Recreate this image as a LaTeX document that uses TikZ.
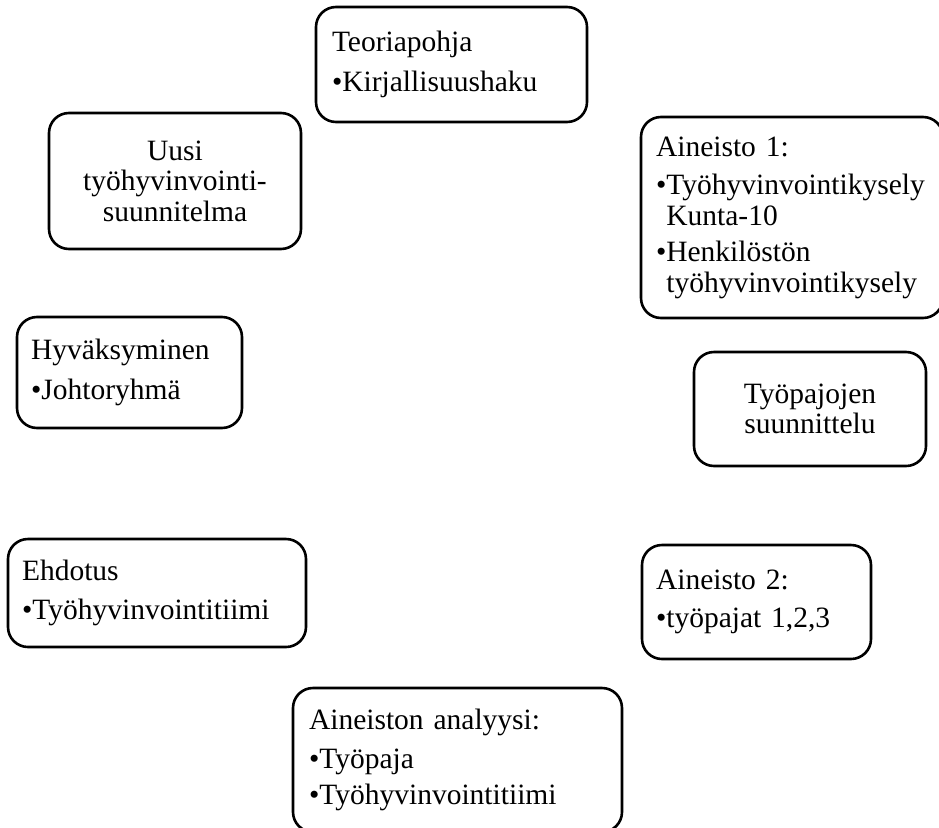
\documentclass[tikz,border=0pt]{standalone}
\usepackage{fontspec}
\setmainfont{Liberation Serif}
\begin{document}
\begin{tikzpicture}[x=1pt,y=-1pt,
  box/.style={draw, line width=2.6pt, rounded corners=20pt,
    font={\fontsize{29.5}{30.5}\selectfont\spaceskip=0.25em\relax\hyphenpenalty=10000\exhyphenpenalty=10000},
    inner ysep=0pt, inner xsep=16pt, align=left},
  cbox/.style={box, align=center}]
\useasboundingbox (0,0) rectangle (939,827);
\begin{scope}
\clip (0,0) rectangle (939,827);
\node[box, minimum width=271pt, minimum height=115pt, text width=239pt] (teo) at (451.5,64.5)
  {Teoriapohja\\[9pt]•Kirjallisuushaku};
\node[cbox, minimum width=252pt, minimum height=136pt, text width=220pt] (uusi) at (175,181)
  {Uusi\\työhyvinvointi-\\suunnitelma};
\node[box, minimum width=302pt, minimum height=201pt, text width=272pt, inner xsep=15pt] (ai1) at (792,217.5)
  {Aineisto 1:\\[8pt]•Työhyvinvointikysely\\\hphantom{•}Kunta-10\\[6pt]•Henkilöstön\\\hphantom{•}työhyvinvointikysely};
\node[box, minimum width=225pt, minimum height=111pt, text width=197pt, inner xsep=14pt] (hyv) at (129.5,372.5)
  {Hyväksyminen\\[9pt]•Johtoryhmä};
\node[cbox, minimum width=232pt, minimum height=114pt, text width=200pt] (tyo) at (810,409)
  {Työpajojen\\suunnittelu};
\node[box, minimum width=298pt, minimum height=108pt, text width=270pt, inner xsep=14pt] (ehd) at (157,593)
  {Ehdotus\\[9pt]•Työhyvinvointitiimi};
\node[box, minimum width=229pt, minimum height=114pt, text width=201pt, inner xsep=14pt] (ai2) at (756.5,602)
  {Aineisto 2:\\[8pt]•työpajat 1,2,3};
\node[box, minimum width=329pt, minimum height=144pt, text width=297pt] (ana) at (457.5,760)
  {Aineiston analyysi:\\[8pt]•Työpaja\\[6pt]•Työhyvinvointitiimi};
\end{scope}
\end{tikzpicture}
\end{document}
